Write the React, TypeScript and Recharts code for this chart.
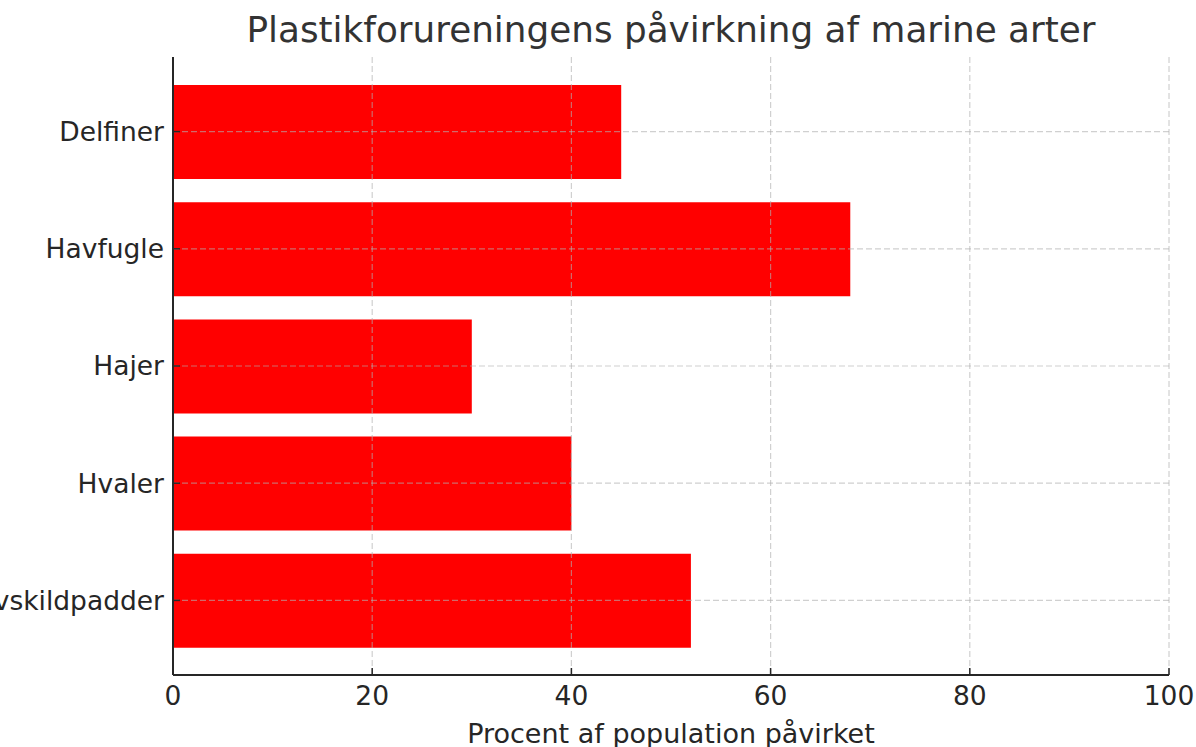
import React from "react";
import { Bar, BarChart, XAxis, YAxis, ReferenceLine, Cell } from "recharts";

const species = ["Delfiner", "Havfugle", "Hajer", "Hvaler", "Havskildpadder"];
const affectedPct = [45, 68, 30, 40, 52];
const xTicks = [0, 20, 40, 60, 80, 100];

const data = species.map((s, i) => ({ species: s, pct: affectedPct[i] }));

const FONT = "'DejaVu Sans', sans-serif";
const INK = "#262626";
const GRID = { stroke: "#b0b0b0", strokeOpacity: 0.6, strokeDasharray: "6 3", strokeWidth: 1.2 };

export default function App() {
  return (
    <div style={{ position: "absolute", left: 0, top: 0, width: 1196, height: 747, overflow: "hidden", background: "#fff" }}>
      <div
        style={{
          position: "absolute",
          left: 171,
          width: 1000,
          top: 9,
          textAlign: "center",
          fontFamily: FONT,
          fontSize: 35.8,
          lineHeight: "42px",
          color: "#333333",
        }}
      >
        Plastikforureningens påvirkning af marine arter
      </div>
      <BarChart
        width={1196}
        height={747}
        data={data}
        layout="vertical"
        margin={{ top: 57, right: 27, left: 0, bottom: 0 }}
        style={{ position: "absolute", left: 0, top: 0 }}
      >
        <XAxis
          type="number"
          domain={[0, 100]}
          ticks={xTicks}
          height={72}
          tickSize={-7}
          tickMargin={18}
          tick={{ fontFamily: FONT, fontSize: 26.5, fill: INK }}
          axisLine={{ stroke: INK, strokeWidth: 2 }}
          tickLine={{ stroke: INK, strokeWidth: 1.5 }}
        />
        <YAxis
          type="category"
          dataKey="species"
          width={173}
          padding={{ top: 16, bottom: 16 }}
          tickSize={-7}
          tickMargin={16}
          tick={{ fontFamily: FONT, fontSize: 26.5, fill: INK }}
          axisLine={{ stroke: INK, strokeWidth: 2 }}
          tickLine={{ stroke: INK, strokeWidth: 1.5 }}
          interval={0}
        />
        <Bar dataKey="pct" barSize={94} isAnimationActive={false}>
          {data.map((d, i) => (
            <Cell key={i} fill="#ff0000" />
          ))}
        </Bar>
        {xTicks.slice(1).map((t) => (
          <ReferenceLine key={`x${t}`} x={t} {...GRID} />
        ))}
        {species.map((s) => (
          <ReferenceLine key={`y${s}`} y={s} {...GRID} />
        ))}
      </BarChart>
      <div
        style={{
          position: "absolute",
          left: 171,
          width: 1000,
          top: 718,
          textAlign: "center",
          fontFamily: FONT,
          fontSize: 27,
          lineHeight: "32px",
          color: INK,
        }}
      >
        Procent af population påvirket
      </div>
    </div>
  );
}
